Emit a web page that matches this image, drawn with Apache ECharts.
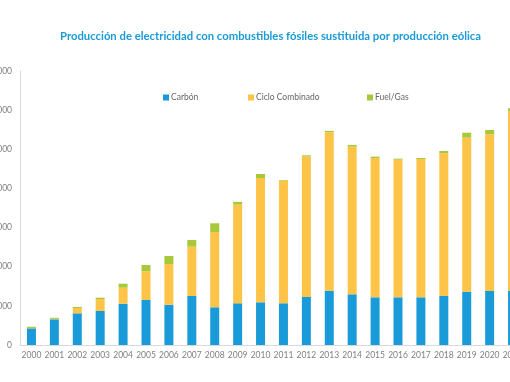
<!DOCTYPE html>
<html>
<head>
<meta charset="utf-8">
<script src="https://cdn.jsdelivr.net/npm/echarts@6/dist/echarts.min.js"></script>
<style>
html,body{margin:0;padding:0;background:#fff;}
#chart{width:510px;height:382px;}
</style>
</head>
<body>
<div id="chart"></div>
<script>
var years = ['2000','2001','2002','2003','2004','2005','2006','2007','2008','2009','2010','2011','2012','2013','2014','2015','2016','2017','2018','2019','2020','2021'];
var carbon = [2130,3280,4050,4340,5280,5750,5150,6260,4820,5330,5450,5330,6130,6940,6480,6090,6090,6090,6260,6810,6900,6900];
var cicloCombinado = [50,60,680,1530,2040,3670,5200,6300,9620,12610,15880,15660,17970,20240,18860,17800,17580,17670,18230,19670,20020,22960];
var fuelGas = [150,130,130,170,510,800,1020,860,1110,340,510,90,130,170,220,170,130,130,290,640,550,380];
var yTicks = [0,5000,10000,15000,20000,25000,30000,35000];

var chart = echarts.init(document.getElementById('chart'));
var labelFont = 'Lato, "Open Sans", sans-serif';
var legendText = {color:'#666666', fontSize:8.5, fontFamily:labelFont, padding:[0,0,0,-3]};
chart.setOption({
  animation:false,
  backgroundColor:'#fff',
  title:{
    text:'Producción de electricidad con combustibles fósiles sustituida por producción eólica',
    left:55, top:26,
    textStyle:{color:'#1a9ad6', fontSize:11.3, fontWeight:'bold', fontFamily:labelFont}
  },
  legend:[
    {data:['Carbón'], left:158, top:88, itemWidth:6, itemHeight:6, icon:'rect', textStyle:legendText},
    {data:['Ciclo Combinado'], left:243, top:88, itemWidth:6, itemHeight:6, icon:'rect', textStyle:legendText},
    {data:['Fuel/Gas'], left:362, top:88, itemWidth:6, itemHeight:6, icon:'rect', textStyle:legendText}
  ],
  grid:{left:20, top:71, bottom:37, width:504, containLabel:false, outerBoundsMode:'none'},
  xAxis:{
    type:'category', data:years,
    axisLine:{lineStyle:{color:'#d9d9d9'}},
    axisTick:{show:false},
    axisLabel:{color:'#7f7f7f', fontSize:8.5, fontFamily:labelFont, margin:6, interval:0}
  },
  yAxis:{
    type:'value', min:yTicks[0], max:yTicks[yTicks.length-1], interval:yTicks[1]-yTicks[0],
    axisLine:{show:true, lineStyle:{color:'#d9d9d9'}},
    axisTick:{show:false},
    splitLine:{show:false},
    axisLabel:{color:'#7f7f7f', fontSize:8.5, fontFamily:labelFont, margin:8}
  },
  series:[
    {name:'Carbón', type:'bar', stack:'t', data:carbon, barWidth:9, itemStyle:{color:'#1a9bd9'}},
    {name:'Ciclo Combinado', type:'bar', stack:'t', data:cicloCombinado, barWidth:9, itemStyle:{color:'#fec447'}},
    {name:'Fuel/Gas', type:'bar', stack:'t', data:fuelGas, barWidth:9, itemStyle:{color:'#a6c83a'}}
  ]
});
</script>
</body>
</html>
